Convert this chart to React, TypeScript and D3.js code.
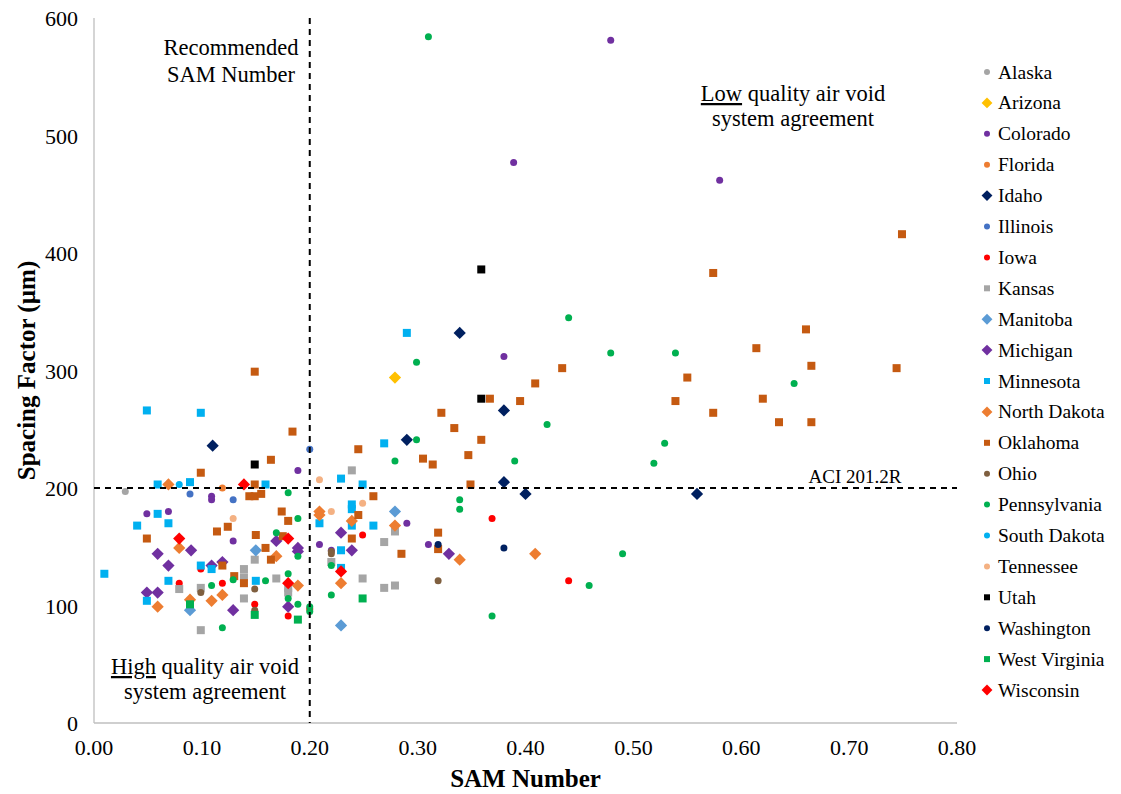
import React from "react";
import * as d3 from "d3";

type Pt = [number, number];

const stateNames = [
  "Alaska", "Arizona", "Colorado", "Florida", "Idaho", "Illinois", "Iowa", "Kansas",
  "Manitoba", "Michigan", "Minnesota", "North Dakota", "Oklahoma", "Ohio",
  "Pennsylvania", "South Dakota", "Tennessee", "Utah", "Washington", "West Virginia", "Wisconsin",
];

const alaska: Pt[] = [[0.029, 197]];
const arizona: Pt[] = [[0.279, 294]];
const colorado: Pt[] = [[0.189, 215], [0.109, 193], [0.109, 190], [0.049, 178], [0.069, 180], [0.129, 155], [0.389, 477], [0.38, 312], [0.29, 170], [0.209, 152], [0.31, 152], [0.22, 147], [0.58, 462], [0.479, 581]];
const florida: Pt[] = [[0.119, 200]];
const idaho: Pt[] = [[0.11, 236], [0.339, 332], [0.38, 266], [0.29, 241], [0.38, 205], [0.4, 195], [0.559, 195]];
const illinois: Pt[] = [[0.089, 195], [0.129, 190], [0.2, 233]];
const iowa: Pt[] = [[0.099, 131], [0.079, 119], [0.119, 119], [0.149, 101], [0.18, 91], [0.2, 97], [0.249, 160], [0.369, 174], [0.44, 121]];
const kansas: Pt[] = [[0.149, 139], [0.139, 131], [0.139, 124], [0.169, 123], [0.18, 115], [0.18, 111], [0.079, 114], [0.099, 115], [0.139, 106], [0.099, 79], [0.239, 215], [0.279, 163], [0.269, 154], [0.22, 137], [0.249, 123], [0.269, 115], [0.279, 117]];
const manitoba: Pt[] = [[0.15, 147], [0.089, 96], [0.229, 83], [0.279, 180]];
const michigan: Pt[] = [[0.09, 147], [0.059, 144], [0.069, 134], [0.109, 134], [0.119, 137], [0.169, 155], [0.189, 149], [0.189, 146], [0.18, 99], [0.049, 111], [0.059, 111], [0.129, 96], [0.229, 162], [0.239, 147], [0.329, 144]];
const minnesota: Pt[] = [[0.059, 203], [0.089, 205], [0.159, 203], [0.059, 178], [0.069, 170], [0.04, 168], [0.0096, 127], [0.099, 134], [0.109, 131], [0.15, 121], [0.069, 121], [0.049, 104], [0.049, 266], [0.099, 264], [0.29, 332], [0.269, 238], [0.229, 208], [0.249, 203], [0.239, 186], [0.239, 182], [0.209, 170], [0.239, 168], [0.259, 168], [0.229, 147], [0.229, 132]];
const northDakota: Pt[] = [[0.069, 203], [0.079, 149], [0.169, 142], [0.189, 117], [0.059, 99], [0.089, 105], [0.109, 104], [0.119, 109], [0.209, 180], [0.209, 177], [0.239, 172], [0.279, 168], [0.229, 119], [0.339, 139], [0.409, 144]];
const oklahoma: Pt[] = [[0.164, 224], [0.099, 213], [0.149, 203], [0.144, 193], [0.149, 193], [0.155, 195], [0.049, 157], [0.119, 134], [0.114, 163], [0.124, 167], [0.174, 180], [0.18, 172], [0.175, 159], [0.15, 160], [0.159, 149], [0.164, 139], [0.139, 119], [0.13, 125], [0.149, 299], [0.184, 248], [0.367, 276], [0.395, 274], [0.322, 264], [0.334, 251], [0.359, 241], [0.245, 233], [0.305, 225], [0.314, 220], [0.347, 228], [0.349, 203], [0.259, 193], [0.245, 177], [0.239, 157], [0.319, 162], [0.319, 148], [0.285, 144], [0.574, 383], [0.614, 319], [0.434, 302], [0.409, 289], [0.55, 294], [0.539, 274], [0.62, 276], [0.574, 264], [0.749, 416], [0.66, 335], [0.665, 304], [0.744, 302], [0.635, 256], [0.665, 256]];
const ohio: Pt[] = [[0.099, 111], [0.149, 114], [0.149, 96], [0.22, 146], [0.22, 144], [0.319, 121]];
const pennsylvania: Pt[] = [[0.18, 196], [0.189, 174], [0.169, 162], [0.189, 142], [0.129, 122], [0.159, 121], [0.18, 127], [0.18, 106], [0.189, 101], [0.2, 99], [0.2, 95], [0.109, 117], [0.119, 81], [0.31, 584], [0.44, 345], [0.479, 315], [0.539, 315], [0.299, 307], [0.299, 241], [0.279, 223], [0.39, 223], [0.339, 190], [0.339, 182], [0.22, 134], [0.22, 109], [0.369, 91], [0.42, 254], [0.529, 238], [0.519, 221], [0.49, 144], [0.459, 117], [0.649, 289]];
const southDakota: Pt[] = [[0.079, 203]];
const tennessee: Pt[] = [[0.129, 174], [0.209, 207], [0.22, 180], [0.249, 187]];
const utah: Pt[] = [[0.149, 220], [0.359, 386], [0.359, 276]];
const washington: Pt[] = [[0.319, 152], [0.38, 149]];
const westVirginia: Pt[] = [[0.189, 88], [0.089, 101], [0.149, 92], [0.249, 106]];
const wisconsin: Pt[] = [[0.139, 203], [0.079, 157], [0.18, 157], [0.18, 119], [0.229, 129]];

const stateData: Pt[][] = [alaska, arizona, colorado, florida, idaho, illinois, iowa, kansas, manitoba, michigan, minnesota, northDakota, oklahoma, ohio, pennsylvania, southDakota, tennessee, utah, washington, westVirginia, wisconsin];

const xTicks = [0, 0.1, 0.2, 0.3, 0.4, 0.5, 0.6, 0.7, 0.8];
const yTicks = [0, 100, 200, 300, 400, 500, 600];

const samThreshold = 0.2;
const aciThreshold = 200;

// styles (kept separate from data)
const shapes: Record<string, string> = {
  Alaska: "circle", Arizona: "diamond", Colorado: "circle", Florida: "circle", Idaho: "diamond",
  Illinois: "circle", Iowa: "circle", Kansas: "square", Manitoba: "diamond", Michigan: "diamond",
  Minnesota: "square", "North Dakota": "diamond", Oklahoma: "square", Ohio: "circle",
  Pennsylvania: "circle", "South Dakota": "circle", Tennessee: "circle", Utah: "square",
  Washington: "circle", "West Virginia": "square", Wisconsin: "diamond",
};
const colors: Record<string, string> = {
  Alaska: "#A5A5A5", Arizona: "#FFC000", Colorado: "#7030A0", Florida: "#ED7D31", Idaho: "#002060",
  Illinois: "#4472C4", Iowa: "#FF0000", Kansas: "#A5A5A5", Manitoba: "#5B9BD5", Michigan: "#7030A0",
  Minnesota: "#00B0F0", "North Dakota": "#ED7D31", Oklahoma: "#C55A11", Ohio: "#7F5F3F",
  Pennsylvania: "#00B050", "South Dakota": "#00B0F0", Tennessee: "#F4B183", Utah: "#000000",
  Washington: "#002060", "West Virginia": "#00B050", Wisconsin: "#FF0000",
};

const W = 1121, H = 794;
const M = { left: 94, right: 957, top: 18, bottom: 723 };
const font = "'Liberation Serif', 'Times New Roman', serif";

function Marker({ shape, color, cx, cy, s }: { shape: string; color: string; cx: number; cy: number; s: number }) {
  if (shape === "circle") return <circle cx={cx} cy={cy} r={s * 0.5} fill={color} />;
  if (shape === "square") return <rect x={cx - s * 0.5} y={cy - s * 0.5} width={s} height={s} fill={color} />;
  const d = s * 0.68;
  return <path d={`M${cx},${cy - d}L${cx + d},${cy}L${cx},${cy + d}L${cx - d},${cy}Z`} fill={color} />;
}

export default function App() {
  const x = d3.scaleLinear().domain([0, 0.8]).range([M.left, M.right]);
  const y = d3.scaleLinear().domain([0, 600]).range([M.bottom, M.top]);

  return (
    <svg width={W} height={H} style={{ position: "absolute", left: 0, top: 0, background: "#fff" }} fontFamily={font}>
      <rect width={W} height={H} fill="#fff" />
      {/* axes */}
      <line x1={M.left} y1={M.top} x2={M.left} y2={M.bottom} stroke="#BFBFBF" strokeWidth={1.3} />
      <line x1={M.left} y1={M.bottom} x2={M.right} y2={M.bottom} stroke="#BFBFBF" strokeWidth={1.3} />
      {yTicks.map((t) => (
        <text key={t} x={78} y={y(t) + 8} textAnchor="end" fontSize={22} fill="#000">{t}</text>
      ))}
      {xTicks.map((t) => (
        <text key={t} x={x(t)} y={755} textAnchor="middle" fontSize={22} fill="#000">{d3.format(".2f")(t)}</text>
      ))}
      <text x={x(0.4)} y={787} textAnchor="middle" fontSize={25} fontWeight="bold">SAM Number</text>
      <text transform={`translate(35,${y(300)}) rotate(-90)`} textAnchor="middle" fontSize={25} fontWeight="bold">Spacing Factor (µm)</text>

      {/* points */}
      {stateNames.map((name, i) => (
        <g key={name}>
          {stateData[i].map((p, j) => (
            <Marker key={j} shape={shapes[name]} color={colors[name]} cx={x(p[0])} cy={y(p[1])} s={shapes[name] === "circle" ? 7 : shapes[name] === "square" ? 8 : 9} />
          ))}
        </g>
      ))}

      {/* threshold lines */}
      <line x1={x(samThreshold)} y1={M.top} x2={x(samThreshold)} y2={M.bottom} stroke="#000" strokeWidth={2} strokeDasharray="6,5" />
      <line x1={M.left} y1={y(aciThreshold)} x2={M.right} y2={y(aciThreshold)} stroke="#000" strokeWidth={2} strokeDasharray="6,5" />

      {/* annotations */}
      <text x={231} y={55} textAnchor="middle" fontSize={22.5}>Recommended</text>
      <text x={231} y={82} textAnchor="middle" fontSize={22.5}>SAM Number</text>
      <text x={793} y={101} textAnchor="middle" fontSize={22.5}><tspan textDecoration="underline">Low</tspan> quality air void</text>
      <text x={793} y={126} textAnchor="middle" fontSize={22.5}>system agreement</text>
      <text x={205} y={674} textAnchor="middle" fontSize={22.5}><tspan textDecoration="underline">High</tspan> quality air void</text>
      <text x={205} y={699} textAnchor="middle" fontSize={22.5}>system agreement</text>
      <text x={855} y={483} textAnchor="middle" fontSize={19}>ACI 201.2R</text>

      {/* legend */}
      {stateNames.map((name, i) => {
        const ly = 72 + i * 30.9;
        return (
          <g key={name}>
            <Marker shape={shapes[name]} color={colors[name]} cx={987} cy={ly} s={shapes[name] === "diamond" ? 8 : 6} />
            <text x={998} y={ly + 6.5} fontSize={19.5}>{name}</text>
          </g>
        );
      })}
    </svg>
  );
}
